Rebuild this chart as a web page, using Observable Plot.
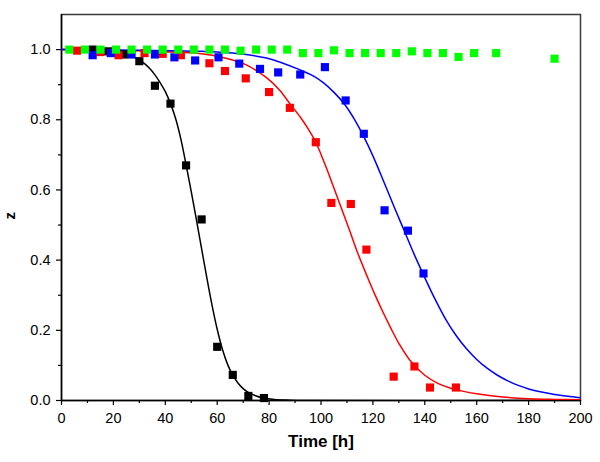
<!DOCTYPE html>
<html>
<head>
<meta charset="utf-8">
<script src="https://cdn.jsdelivr.net/npm/d3@7"></script>
<script src="https://cdn.jsdelivr.net/npm/@observablehq/plot@0.6"></script>
<style>
  html, body { margin: 0; padding: 0; background: #fff; }
  #chart { width: 600px; height: 462px; }
</style>
</head>
<body>
<div id="chart"></div>
<script>
// ---- Data ----
const xMajorTicks = [0, 20, 40, 60, 80, 100, 120, 140, 160, 180, 200];
const xMinorTicks = [10, 30, 50, 70, 90, 110, 130, 150, 170, 190];
const yMajorTicks = [0, 0.2, 0.4, 0.6, 0.8, 1.0];
const yMinorTicks = [0.1, 0.3, 0.5, 0.7, 0.9];

// measured points
const blackT = [12, 18, 24, 30, 36, 42, 48, 54, 60, 66, 72, 78];
const blackZ = [1.0, 0.995, 0.986, 0.967, 0.897, 0.846, 0.670, 0.516, 0.153, 0.073, 0.013, 0.007];

const redT = [6, 15, 22, 32, 39, 46, 57, 63, 71, 80, 88, 98, 104, 111.5, 117.5, 128, 136, 142, 152];
const redZ = [0.997, 0.993, 0.984, 0.990, 0.988, 0.984, 0.961, 0.939, 0.918, 0.879, 0.834, 0.736, 0.563, 0.560, 0.430, 0.068, 0.097, 0.037, 0.037];

const blueT = [12, 19, 27, 36, 43.5, 51.5, 60.5, 68.5, 76.5, 83.5, 92, 101.5, 109.5, 116.5, 124.5, 133.5, 139.5];
const blueZ = [0.984, 0.990, 0.986, 0.986, 0.978, 0.969, 0.978, 0.960, 0.945, 0.935, 0.929, 0.950, 0.855, 0.760, 0.542, 0.484, 0.362];

const greenT = [3, 9, 15, 21, 27, 33, 39, 45, 51, 57, 63, 69, 75, 81, 87, 93, 99, 105, 111, 117, 123, 129, 135, 141, 147, 153, 159, 167.5, 190];
const greenZ = [1.0, 1.0, 1.0, 1.0, 1.0, 1.0, 1.0, 1.0, 1.0, 1.0, 1.0, 0.997, 1.0, 1.0, 1.0, 0.990, 0.990, 0.998, 0.990, 0.990, 0.990, 0.990, 0.995, 0.990, 0.990, 0.979, 0.990, 0.990, 0.974];

// fitted curves
const blackCurveT = [0, 10, 20, 25, 30, 32, 34, 36, 38, 40, 42, 44, 46, 48, 50, 52, 54, 56, 58, 60, 62, 64, 66, 68, 70, 72, 75, 78, 82, 88, 95, 200];
const blackCurveZ = [1.0, 0.999, 0.995, 0.988, 0.970, 0.960, 0.946, 0.928, 0.906, 0.880, 0.846, 0.803, 0.745, 0.672, 0.595, 0.515, 0.432, 0.350, 0.272, 0.203, 0.146, 0.103, 0.072, 0.050, 0.034, 0.023, 0.013, 0.007, 0.003, 0.001, 0.0, 0.0];

const redCurveT = [0, 20, 40, 54, 63, 71, 79, 84, 88, 92, 95, 98, 101, 104, 107, 111, 114, 118, 121, 124, 127, 130, 135, 140, 145, 150, 155, 160, 170, 180, 190, 200];
const redCurveZ = [1.0, 0.998, 0.994, 0.988, 0.976, 0.957, 0.920, 0.885, 0.846, 0.808, 0.775, 0.736, 0.683, 0.625, 0.565, 0.485, 0.423, 0.350, 0.298, 0.250, 0.205, 0.163, 0.108, 0.072, 0.049, 0.035, 0.026, 0.019, 0.010, 0.005, 0.003, 0.002];

const blueCurveT = [0, 30, 54, 66, 79, 92, 97, 101, 105, 109, 113, 116.5, 120, 124, 128, 132, 136, 140, 144, 148, 152, 156, 160, 164, 168, 172, 176, 180, 185, 190, 195, 200];
const blueCurveZ = [1.0, 0.998, 0.995, 0.990, 0.976, 0.942, 0.925, 0.905, 0.878, 0.845, 0.800, 0.752, 0.697, 0.627, 0.555, 0.485, 0.415, 0.350, 0.288, 0.232, 0.186, 0.148, 0.117, 0.092, 0.072, 0.056, 0.043, 0.033, 0.024, 0.017, 0.012, 0.008];

const xLabel = "Time [h]";
const yLabel = "z";

// ---- Chart ----
const font = "'Liberation Sans', Arial, sans-serif";
const dotR = 4.6;

const chart = Plot.plot({
  width: 600,
  height: 462,
  marginLeft: 61,
  marginRight: 20,
  marginTop: 14,
  marginBottom: 62,
  style: { fontFamily: font, fontSize: "14.5px", color: "#000", background: "#fff", overflow: "visible" },
  x: { domain: [0, 200] },
  y: { domain: [0, 1.1] },
  marks: [
    Plot.frame({ stroke: "#3a3a3a", strokeWidth: 1.5 }),
    // axes ticks
    Plot.axisX({ ticks: xMajorTicks, tickSize: 5, tickPadding: 7, tickFormat: d3.format("d"), label: null, fontSize: 14.5, strokeWidth: 1.2 }),
    Plot.axisX({ ticks: xMinorTicks, tickSize: 3, tickFormat: () => "", label: null, strokeWidth: 1.2 }),
    Plot.axisY({ ticks: yMajorTicks, tickSize: 5, tickPadding: 6, tickFormat: d3.format(".1f"), label: null, fontSize: 14.5, strokeWidth: 1.2 }),
    Plot.axisY({ ticks: yMinorTicks, tickSize: 3, tickFormat: () => "", label: null, strokeWidth: 1.2 }),
    Plot.ruleX([0], { stroke: "#000", strokeWidth: 1.5 }),
    Plot.ruleY([0], { stroke: "#000", strokeWidth: 1.5 }),
    // fitted lines
    Plot.line(blackCurveT, { x: blackCurveT, y: blackCurveZ, stroke: "#000", strokeWidth: 1.5, curve: "catmull-rom", clip: true }),
    Plot.line(redCurveT, { x: redCurveT, y: redCurveZ, stroke: "#ff0000", strokeWidth: 1.5, curve: "catmull-rom", clip: true }),
    Plot.line(blueCurveT, { x: blueCurveT, y: blueCurveZ, stroke: "#0000ff", strokeWidth: 1.5, curve: "catmull-rom", clip: true }),
    // measured points
    Plot.dot(blackT, { x: blackT, y: blackZ, symbol: "square", r: dotR, fill: "#000", stroke: "none" }),
    Plot.dot(redT, { x: redT, y: redZ, symbol: "square", r: dotR, fill: "#ff0000", stroke: "none" }),
    Plot.dot(blueT, { x: blueT, y: blueZ, symbol: "square", r: dotR, fill: "#0000ff", stroke: "none" }),
    Plot.dot(greenT, { x: greenT, y: greenZ, symbol: "square", r: dotR, fill: "#00ff00", stroke: "none" }),
    // axis titles
    Plot.text([xLabel], { frameAnchor: "bottom", dy: 46, text: d => d, fontWeight: "bold", fontSize: 17, fill: "#000" }),
    Plot.text([yLabel], { frameAnchor: "left", dx: -51, dy: 12, rotate: -90, text: d => d, fontWeight: "bold", fontSize: 15, fill: "#000" })
  ]
});

document.getElementById("chart").appendChild(chart);
</script>
</body>
</html>
